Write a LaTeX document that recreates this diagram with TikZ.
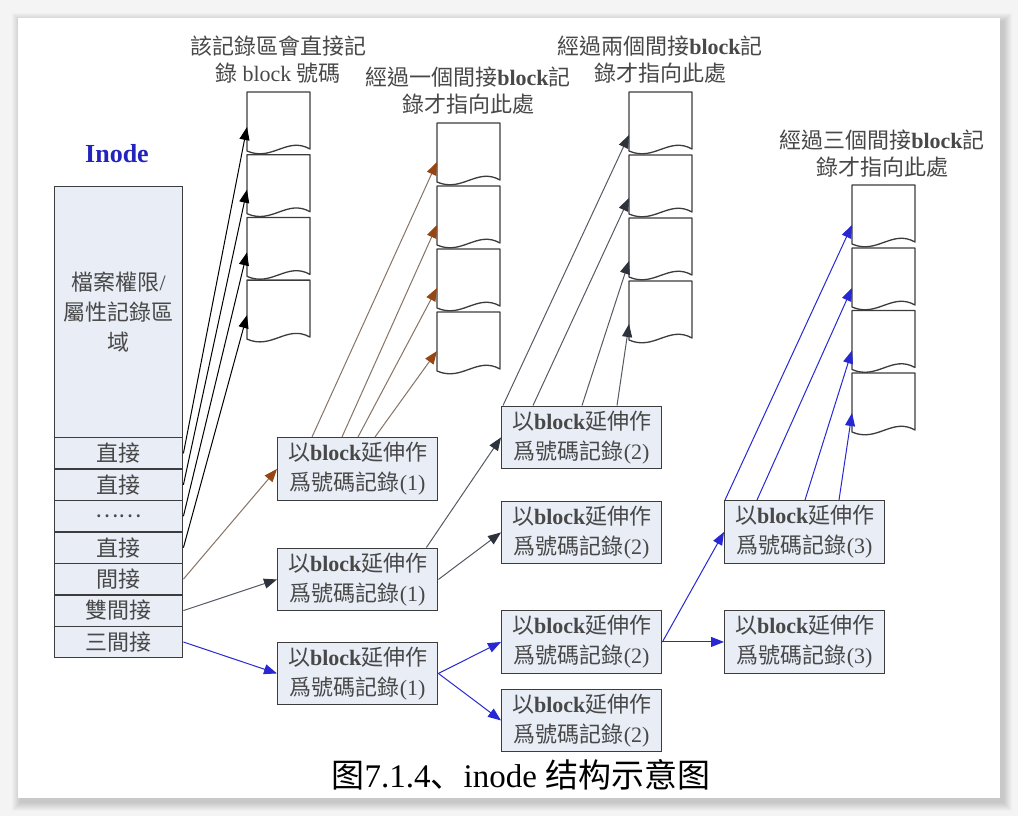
\documentclass[tikz,border=0pt]{standalone}
\usepackage{fontspec}
\setmainfont{Liberation Serif}
\newfontfamily\cjk{Noto Sans CJK TC}
\newfontfamily\cjksc{Noto Sans CJK SC}
\usetikzlibrary{arrows.meta,calc}

\definecolor{bggray}{RGB}{244,244,244}
\definecolor{boxfill}{RGB}{232,237,246}
\definecolor{boxline}{RGB}{60,60,60}
\definecolor{txt}{RGB}{72,72,72}
\definecolor{brownT}{RGB}{150,70,20}
\definecolor{brownL}{RGB}{135,115,100}
\definecolor{slateT}{RGB}{45,50,60}
\definecolor{slateL}{RGB}{85,90,100}
\definecolor{blueL}{RGB}{40,40,210}
\definecolor{inodeblue}{RGB}{35,35,190}

\newcommand{\Zh}[1]{{\cjk #1}}
\newcommand{\Zs}[1]{{\cjksc #1}}

\newcommand{\docblk}[2]{%
  \draw[blk] (#1,#2+59) -- (#1,#2) -- (#1+63,#2) -- (#1+63,#2+57)
    .. controls (#1+40,#2+44) and (#1+25,#2+70) .. (#1,#2+59) -- cycle;}

\tikzset{
  blk/.style={draw=boxline, fill=white, line width=1.3pt, line join=round},
  hdr/.style={align=center, text=txt, font=\fontsize{22}{27.5}\selectfont, inner sep=0pt},
  rec/.style={draw=boxline, fill=boxfill, line width=1.4pt, minimum width=160pt,
    minimum height=62.5pt, anchor=north west, align=center, inner sep=0pt,
    text=txt, font=\fontsize{22}{30}\selectfont},
  inrow/.style={draw=boxline, fill=boxfill, line width=1.4pt, minimum width=128pt,
    minimum height=31.43pt, anchor=north west, inner sep=0pt, text=txt,
    font=\fontsize{22}{26}\selectfont},
  tipk/.style={-{Triangle[length=13pt,width=10pt]}},
  arrK/.style={line width=1pt, draw=black, tipk},
  arrBr/.style={line width=1pt, draw=brownL, -{Triangle[length=13pt,width=10pt,color=brownT]}},
  arrSl/.style={line width=1pt, draw=slateL, -{Triangle[length=13pt,width=10pt,color=slateT]}},
  arrBl/.style={line width=1pt, draw=blueL, -{Triangle[length=13pt,width=10pt,color=blueL]}},
}

\begin{document}
\begin{tikzpicture}[x=1pt,y=-1pt]
\useasboundingbox (0,0) rectangle (1018,816);
% background and card
\fill[bggray] (0,0) rectangle (1018,816);
\foreach \k in {1,...,9} {
  \fill[black, opacity=0.02] (18-\k+3,18-\k+4) rectangle (1000+\k+3,798+\k+4);
}
\fill[white] (18,18) rectangle (1000,798);

% Inode
\node[font=\fontsize{26}{26}\selectfont\bfseries, text=inodeblue] (ilabel) at (117,154) {Inode};
\node[inrow, minimum height=251pt, align=center, font=\fontsize{22}{30}\selectfont] (attr) at (54,186)
  {\Zh{檔案權限}/\\\Zh{屬性記錄區}\\\Zh{域}};
\node[inrow] (r1) at (54,437) {\Zh{直接}};
\node[inrow] (r2) at (54,468.43) {\Zh{直接}};
\node[inrow] (r3) at (54,499.86) {\Zh{……}};
\node[inrow] (r4) at (54,531.29) {\Zh{直接}};
\node[inrow] (r5) at (54,562.72) {\Zh{間接}};
\node[inrow] (r6) at (54,594.15) {\Zh{雙間接}};
\node[inrow] (r7) at (54,625.58) {\Zh{三間接}};

% headers
\node[hdr] (h1) at (278,59.5) {\Zh{該記錄區會直接記}\\\Zh{錄} block \Zh{號碼}};
\node[hdr] (h2) at (468,90.5) {\Zh{經過一個間接}\textbf{block}\Zh{記}\\\Zh{錄才指向此處}};
\node[hdr] (h3) at (660,59.5) {\Zh{經過兩個間接}\textbf{block}\Zh{記}\\\Zh{錄才指向此處}};
\node[hdr] (h4) at (882,153.5) {\Zh{經過三個間接}\textbf{block}\Zh{記}\\\Zh{錄才指向此處}};

% block columns
\foreach \t [count=\i] in {92,154.7,217.4,280.1} {\docblk{247}{\t} \coordinate (dd\i) at (247,\t+35);}
\foreach \t [count=\i] in {123,186,249,312} {\docblk{437}{\t} \coordinate (ss\i) at (437,\t+39);}
\foreach \t [count=\i] in {92,155,218,281} {\docblk{629}{\t} \coordinate (db\i) at (629,\t+43);}
\foreach \t [count=\i] in {185,248,310.5,373} {\docblk{852}{\t} \coordinate (tb\i) at (852,\t+40);}

% record boxes
\node[rec] (S1) at (277,437) {\Zh{以}\textbf{block}\Zh{延伸作}\\\Zh{爲號碼記錄}(1)};
\node[rec] (D1) at (277,547.5) {\Zh{以}\textbf{block}\Zh{延伸作}\\\Zh{爲號碼記錄}(1)};
\node[rec] (T1) at (277,641.5) {\Zh{以}\textbf{block}\Zh{延伸作}\\\Zh{爲號碼記錄}(1)};
\node[rec] (D2a) at (501,405.5) {\Zh{以}\textbf{block}\Zh{延伸作}\\\Zh{爲號碼記錄}(2)};
\node[rec] (D2b) at (501,500.5) {\Zh{以}\textbf{block}\Zh{延伸作}\\\Zh{爲號碼記錄}(2)};
\node[rec] (T2a) at (501,610) {\Zh{以}\textbf{block}\Zh{延伸作}\\\Zh{爲號碼記錄}(2)};
\node[rec] (T2b) at (501,688.5) {\Zh{以}\textbf{block}\Zh{延伸作}\\\Zh{爲號碼記錄}(2)};
\node[rec] (T3a) at (724,500) {\Zh{以}\textbf{block}\Zh{延伸作}\\\Zh{爲號碼記錄}(3)};
\node[rec] (T3b) at (724,610) {\Zh{以}\textbf{block}\Zh{延伸作}\\\Zh{爲號碼記錄}(3)};

% direct
\foreach \i in {1,...,4} \draw[arrK] (r\i.east) -- (dd\i);

% single indirect
\draw[arrBr] (r5.east) -- (S1.west);
\foreach \o [count=\i] in {35,65,81,98}
  \draw[arrBr] ($(S1.north west)+(\o,0)$) -- (ss\i);

% double indirect
\draw[arrSl] (r6.east) -- (D1.west);
\draw[arrSl] ($(D1.north east)+(-12,0)$) -- (D2a.west);
\draw[arrSl] (D1.east) -- (D2b.west);
\foreach \o [count=\i] in {2,32,81,116}
  \draw[arrSl] ($(D2a.north west)+(\o,0)$) -- (db\i);

% triple indirect
\draw[arrBl] (r7.east) -- (T1.west);
\draw[arrBl] (T1.east) -- (T2a.west);
\draw[arrBl] (T1.east) -- (T2b.west);
\draw[arrBl] (T2a.east) -- (T3a.west);
\draw[arrBl] (T2a.east) -- (T3b.west);
\foreach \o [count=\i] in {1,33,81,115}
  \draw[arrBl] ($(T3a.north west)+(\o,0)$) -- (tb\i);

% caption
\node[font=\fontsize{33}{33}\selectfont, text=black] (cap) at (521,775)
  {\Zs{图}7.1.4\Zs{、}inode \Zs{结构示意图}};
\end{tikzpicture}
\end{document}
